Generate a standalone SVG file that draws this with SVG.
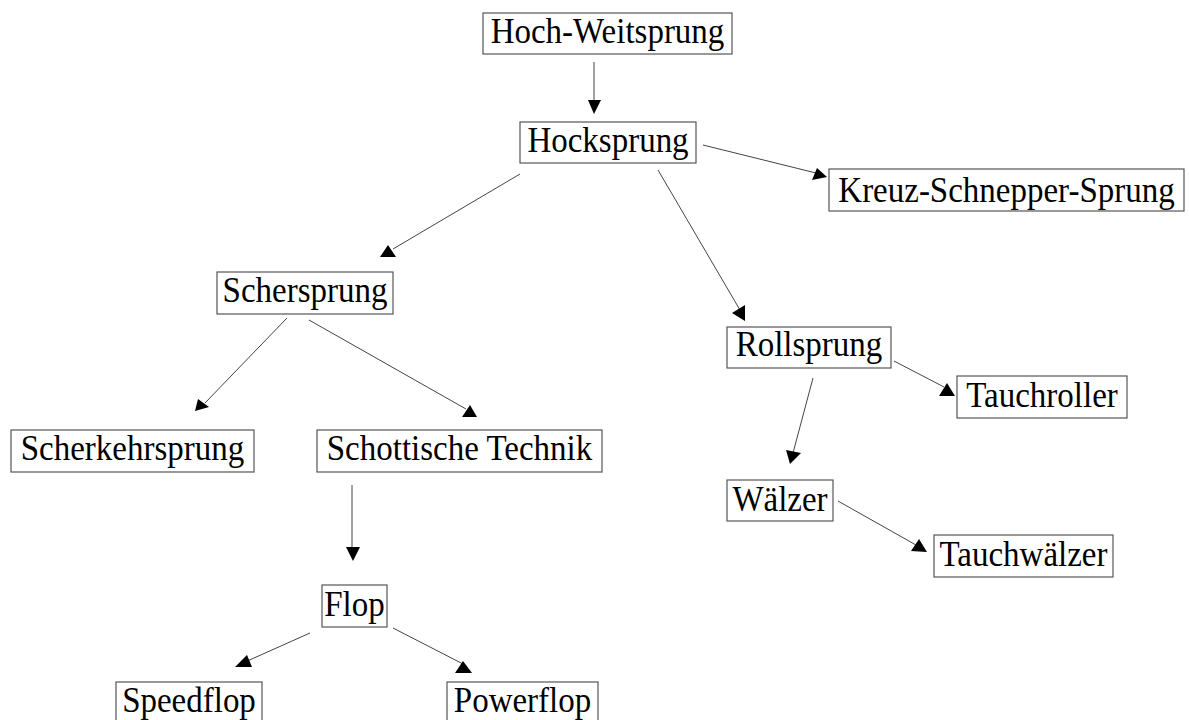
<svg xmlns="http://www.w3.org/2000/svg" width="1189" height="720" viewBox="0 0 1189 720">
<style>
.box{fill:#fff;stroke:#555;stroke-width:1.2}
.lbl{font-family:"Liberation Serif","Times New Roman",serif;font-size:33px;fill:#000;text-anchor:middle}
.ln{stroke:#444;stroke-width:1;fill:none}
.ah{fill:#000;stroke:none}
</style>
<rect width="1189" height="720" fill="#fff"/>
<g id="connectors">
<line class="ln" x1="594" y1="62" x2="594" y2="101"/><polygon class="ah" points="588,100 601,100 594,114"/>
<line class="ln" x1="703" y1="145" x2="816" y2="173"/><polygon class="ah" points="827,177 817,168 812,180"/>
<line class="ln" x1="520" y1="174" x2="393" y2="249"/><polygon class="ah" points="388,245 380,257 396,257"/>
<line class="ln" x1="658" y1="170" x2="740" y2="310"/><polygon class="ah" points="732,313 745,305 745,321"/>
<line class="ln" x1="287" y1="318" x2="205" y2="403"/><polygon class="ah" points="195,411 198,399 209,407"/>
<line class="ln" x1="309" y1="320" x2="466" y2="409"/><polygon class="ah" points="470,405 462,417 477,417"/>
<line class="ln" x1="894" y1="361" x2="944" y2="387"/><polygon class="ah" points="947,383 939,396 955,396"/>
<line class="ln" x1="813" y1="378" x2="793" y2="453"/><polygon class="ah" points="786,450 801,453 790,464"/>
<line class="ln" x1="838" y1="501" x2="916" y2="545"/><polygon class="ah" points="919,539 911,551 927,552"/>
<line class="ln" x1="352" y1="485" x2="352" y2="548"/><polygon class="ah" points="346,547 360,547 353,561"/>
<line class="ln" x1="310" y1="633" x2="245" y2="662"/><polygon class="ah" points="235,667 247,655 252,667"/>
<line class="ln" x1="393" y1="628" x2="465" y2="665"/><polygon class="ah" points="463,661 455,673 472,673"/>
</g>
<g id="n-hochweitsprung"><rect class="box" x="483" y="13" width="249" height="41"/><text class="lbl" transform="translate(607.5,43) scale(1,1.07)">Hoch-Weitsprung</text></g>
<g id="n-hocksprung"><rect class="box" x="520" y="122" width="176" height="41"/><text class="lbl" transform="translate(608,152) scale(1,1.07)">Hocksprung</text></g>
<g id="n-kreuz"><rect class="box" x="829" y="169" width="355" height="42"/><text class="lbl" transform="translate(1006.5,202) scale(1,1.07)">Kreuz-Schnepper-Sprung</text></g>
<g id="n-schersprung"><rect class="box" x="217" y="272" width="176" height="42"/><text class="lbl" transform="translate(305,302) scale(1,1.07)">Schersprung</text></g>
<g id="n-rollsprung"><rect class="box" x="727" y="327" width="164" height="41"/><text class="lbl" transform="translate(809,356) scale(1,1.07)">Rollsprung</text></g>
<g id="n-scherkehrsprung"><rect class="box" x="11" y="430" width="243" height="42"/><text class="lbl" transform="translate(132.5,460) scale(1,1.07)">Scherkehrsprung</text></g>
<g id="n-schottische"><rect class="box" x="317" y="430" width="285" height="42"/><text class="lbl" transform="translate(459.5,460) scale(1,1.07)">Schottische Technik</text></g>
<g id="n-tauchroller"><rect class="box" x="957" y="376" width="170" height="42"/><text class="lbl" transform="translate(1042,407) scale(1,1.07)">Tauchroller</text></g>
<g id="n-waelzer"><rect class="box" x="727" y="480" width="106" height="41"/><text class="lbl" transform="translate(780,511) scale(1,1.07)">Wälzer</text></g>
<g id="n-tauchwaelzer"><rect class="box" x="934" y="535" width="179" height="42"/><text class="lbl" transform="translate(1023.5,566) scale(1,1.07)">Tauchwälzer</text></g>
<g id="n-flop"><rect class="box" x="322" y="585" width="65" height="42"/><text class="lbl" transform="translate(354.5,616) scale(1,1.07)">Flop</text></g>
<g id="n-speedflop"><rect class="box" x="116" y="682" width="146" height="42"/><text class="lbl" transform="translate(189,712) scale(1,1.07)">Speedflop</text></g>
<g id="n-powerflop"><rect class="box" x="447" y="682" width="151" height="42"/><text class="lbl" transform="translate(522.5,712) scale(1,1.07)">Powerflop</text></g>
</svg>
